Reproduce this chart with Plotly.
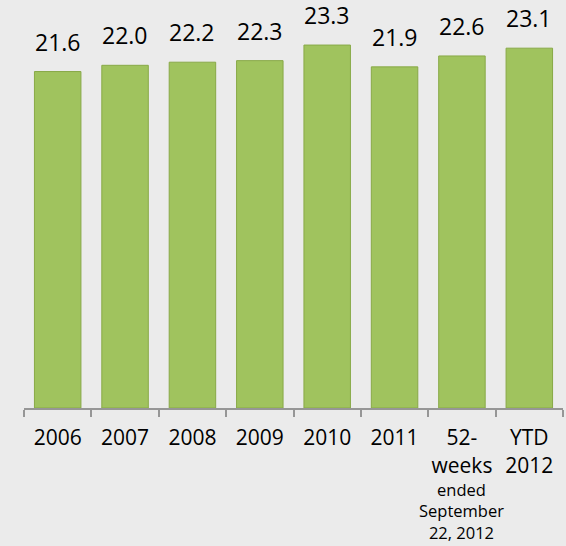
import plotly.graph_objects as go

categories = ["2006", "2007", "2008", "2009", "2010", "2011", "52-<br>weeks", "YTD<br>2012"]
values = [21.6, 22.0, 22.2, 22.3, 23.3, 21.9, 22.6, 23.1]
value_labels = ["21.6", "22.0", "22.2", "22.3", "23.3", "21.9", "22.6", "23.1"]
note_category = "52-<br>weeks"
note_text = "ended<br>September<br>22, 2012"

FONT = "Open Sans"
pos = list(range(len(categories)))
bounds = [p - 0.5 for p in pos] + [pos[-1] + 0.5]

fig = go.Figure()
fig.add_trace(go.Bar(
    x=pos, y=values,
    marker=dict(color="#a0c35e", line=dict(color="#88a947", width=1)),
    hoverinfo="skip",
))

for p, v, t in zip(pos, values, value_labels):
    fig.add_annotation(x=p, y=v, text=t, showarrow=False, yanchor="bottom",
                       yshift=12, font=dict(family=FONT, size=23, color="#000000"))

fig.add_annotation(x=categories.index(note_category), y=0, text=note_text, showarrow=False,
                   yanchor="top", yshift=-69, borderpad=0,
                   font=dict(family=FONT, size=16.5, color="#000000"))

fig.update_layout(
    width=566, height=546,
    margin=dict(l=24, r=3, t=3, b=138),
    paper_bgcolor="#ebebeb", plot_bgcolor="#ebebeb",
    bargap=0.31, showlegend=False,
    font=dict(family=FONT, color="#000000"),
    xaxis=dict(
        range=[-0.5, len(categories) - 0.5],
        tickmode="array", tickvals=pos, ticktext=categories, ticks="",
        ticklabelstandoff=10,
        showline=True, linecolor="#969696", linewidth=2,
        tickfont=dict(family=FONT, size=21, color="#000000"),
        minor=dict(tickmode="array", tickvals=bounds, ticks="outside", ticklen=7,
                   tickcolor="#969696", tickwidth=2, showgrid=False),
        showgrid=False, zeroline=False, tickangle=0,
    ),
    yaxis=dict(range=[0, 26.0], visible=False, showgrid=False, zeroline=False),
)

fig.write_html("out.html", config={"displayModeBar": False},
               post_script="document.body.style.margin='0';document.body.style.overflow='hidden';")
